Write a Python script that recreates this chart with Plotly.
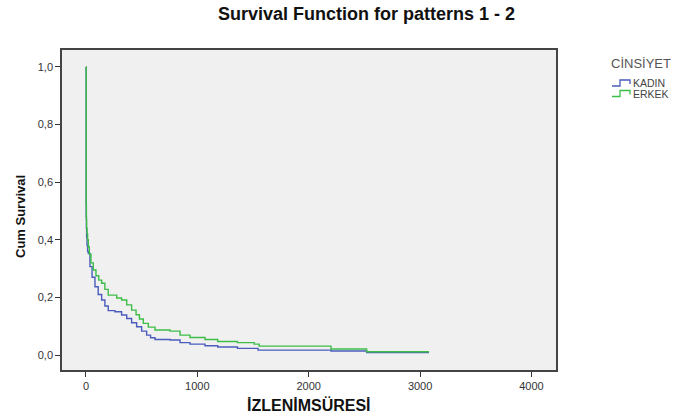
import plotly.graph_objects as go

# Kaplan-Meier step data
kadin_t = [0, 2, 4, 6, 10, 15, 21, 36, 55, 81, 110, 141, 170, 200, 261, 320, 366, 410, 455, 500, 545, 580, 620, 755, 845, 934, 1069, 1183, 1360, 1545, 2200, 2520, 3080]
kadin_s = [1.0, 0.48, 0.44, 0.41, 0.38, 0.36, 0.353, 0.307, 0.27, 0.237, 0.21, 0.191, 0.17, 0.154, 0.150, 0.139, 0.127, 0.112, 0.098, 0.083, 0.069, 0.060, 0.054, 0.052, 0.043, 0.038, 0.032, 0.028, 0.023, 0.017, 0.014, 0.009, 0.009]

erkek_t = [0, 2, 4, 6, 10, 15, 21, 30, 45, 66, 90, 115, 141, 170, 200, 276, 320, 366, 410, 450, 480, 515, 560, 620, 755, 845, 934, 1069, 1183, 1360, 1510, 1555, 2200, 2520, 3080]
erkek_s = [1.0, 0.52, 0.47, 0.44, 0.42, 0.40, 0.376, 0.35, 0.32, 0.295, 0.275, 0.26, 0.249, 0.228, 0.208, 0.198, 0.191, 0.174, 0.156, 0.14, 0.125, 0.110, 0.097, 0.087, 0.083, 0.069, 0.061, 0.054, 0.047, 0.043, 0.038, 0.031, 0.021, 0.0115, 0.0115]

series_names = ["KADIN", "ERKEK"]
series_colors = ["#4a5cbd", "#3dbd47"]
legend_title = "CİNSİYET"

x_ticks = [0, 1000, 2000, 3000, 4000]
y_ticks = [0.0, 0.2, 0.4, 0.6, 0.8, 1.0]
y_tick_labels = ["0,0", "0,2", "0,4", "0,6", "0,8", "1,0"]

# plot area at x 62..556, y 50..370 in the window (body margin removed below)
W, H = 682, 419
PL, PT, PW, PH = 62, 50, 494, 320


def px(xp):  # window x pixel -> paper x
    return (xp - PL) / PW


def py(yp):  # window y pixel -> paper y
    return (PT + PH - yp) / PH


fig = go.Figure()
for t, s, name, col in [(kadin_t, kadin_s, series_names[0], series_colors[0]),
                        (erkek_t, erkek_s, series_names[1], series_colors[1])]:
    fig.add_trace(go.Scatter(x=t, y=s, mode="lines", line_shape="hv", name=name,
                             showlegend=False, line=dict(color=col, width=1.4)))

annotations = [
    dict(text="<b>Survival Function for patterns 1 - 2</b>", xref="paper", yref="paper",
         x=px(366), y=py(14), xanchor="center", yanchor="middle",
         showarrow=False, font=dict(size=18, color="#111")),
    dict(text="<b>İZLENİMSÜRESİ</b>", xref="paper", yref="paper",
         x=0.5, y=py(405), xanchor="center", yanchor="middle",
         showarrow=False, font=dict(size=16, color="#111")),
    dict(text="<b>Cum Survival</b>", xref="paper", yref="paper",
         x=px(20), y=py(217), xanchor="center", yanchor="middle",
         textangle=-90, showarrow=False, font=dict(size=13, color="#111")),
    dict(text=legend_title, xref="paper", yref="paper", x=px(609), y=py(64),
         xanchor="left", yanchor="middle", showarrow=False,
         font=dict(size=13, color="#555")),
]
shapes = []
for i, (name, col) in enumerate(zip(series_names, series_colors)):
    yc = 83 + i * 10.5
    annotations.append(dict(text=name, xref="paper", yref="paper", x=px(631), y=py(yc),
                            xanchor="left", yanchor="middle", showarrow=False,
                            font=dict(size=10.5, color="#444")))
    path = "M {} {} L {} {} L {} {} L {} {} L {} {}".format(
        px(612), py(yc + 3), px(620), py(yc + 3), px(620), py(yc - 3),
        px(630), py(yc - 3), px(630), py(yc + 1))
    shapes.append(dict(type="path", xref="paper", yref="paper", path=path,
                       line=dict(color=col, width=1.3)))

fig.update_layout(
    width=W, height=H,
    margin=dict(l=PL, r=W - PL - PW, t=PT, b=H - PT - PH, pad=0),
    paper_bgcolor="white",
    plot_bgcolor="#f0f0f0",
    font=dict(family="Liberation Sans, Arial, sans-serif", color="#333"),
    showlegend=False,
    xaxis=dict(
        range=[-215, 4220], tickvals=x_ticks, showgrid=False, zeroline=False,
        ticks="outside", ticklen=5, tickcolor="#333", tickfont=dict(size=11, color="#333"),
        showline=True, linecolor="#444", linewidth=1.5, mirror=True,
    ),
    yaxis=dict(
        range=[-0.052, 1.059], tickvals=y_ticks, ticktext=y_tick_labels,
        showgrid=False, zeroline=False,
        ticks="outside", ticklen=5, tickcolor="#333", tickfont=dict(size=11, color="#333"),
        showline=True, linecolor="#444", linewidth=1.5, mirror=True,
    ),
    annotations=annotations,
    shapes=shapes,
)

fig.write_html(
    "out.html",
    config={"displayModeBar": False},
    post_script="document.body.style.margin='0';document.body.style.overflow='hidden';",
)
